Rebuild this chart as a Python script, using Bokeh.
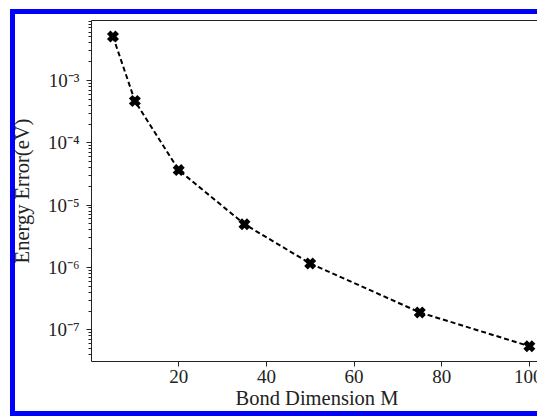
from bokeh.plotting import figure
from bokeh.models import (Range1d, FixedTicker, LogTicker, LinearAxis,
                          CustomJSTickFormatter)
from bokeh.embed import file_html
from bokeh.resources import INLINE

# ---- data ----
bond_dim = [5, 10, 20, 35, 50, 75, 100]
energy_error = [5.1e-3, 4.7e-4, 3.65e-5, 4.95e-6, 1.16e-6, 1.9e-7, 5.45e-8]
x_ticks = [20, 40, 60, 80, 100]
x_label = "Bond Dimension M"
y_label = "Energy Error(eV)"

FONT = "Liberation Serif"
INK = "#222222"
BLUE = "#0000ff"

p = figure(width=542, height=416, y_axis_type="log",
           x_range=Range1d(0.1, 103.0),
           y_range=Range1d(10 ** -7.509, 10 ** -2.037),
           output_backend="svg", toolbar_location=None,
           min_border_left=91, min_border_right=0,
           min_border_top=20, min_border_bottom=55)

p.outline_line_color = None
p.xgrid.visible = False
p.ygrid.visible = False
p.background_fill_color = "white"
p.border_fill_color = None

# blue picture frame (left, top and bottom edges) painted behind the canvas
p.styles = {"background-color": "white",
            "box-shadow": f"inset 10px 9px 0 0 white, inset 0 -5px 0 0 {BLUE}, "
                          f"inset 15px 14px 0 0 {BLUE}",
            "clip-path": "inset(0px 5px 0px 0px)"}

# top spine
top = LinearAxis(ticker=FixedTicker(ticks=[]), major_tick_out=0, minor_tick_out=0,
                 major_label_text_font_size="0px", axis_line_color=INK,
                 axis_line_width=1)
p.add_layout(top, "above")

# x axis (bottom)
xa = p.below[0]
xa.ticker = FixedTicker(ticks=x_ticks)
xa.axis_label = x_label
xa.major_tick_out = 5
xa.major_tick_in = 0
xa.minor_tick_out = 0
xa.major_label_standoff = 3
xa.axis_label_standoff = 1
xa.axis_line_color = INK
xa.major_tick_line_color = INK
xa.major_label_text_font = FONT
xa.major_label_text_font_size = "19px"
xa.major_label_text_color = INK
xa.axis_label_text_font = FONT
xa.axis_label_text_font_size = "20.5px"
xa.axis_label_text_font_style = "normal"
xa.axis_label_text_color = INK

# y axis
ya = p.left[0]
ya.ticker = LogTicker(num_minor_ticks=10)
ya.formatter = CustomJSTickFormatter(code="""
const e = Math.round(Math.log10(tick));
const sup = {"-":"\u207B","0":"\u2070","1":"\u00B9","2":"\u00B2","3":"\u00B3",
             "4":"\u2074","5":"\u2075","6":"\u2076","7":"\u2077","8":"\u2078","9":"\u2079"};
return "10" + String(e).split("").map(c => sup[c]).join("");
""")
ya.axis_label = y_label
ya.major_tick_out = 5
ya.major_tick_in = 0
ya.minor_tick_out = 3
ya.minor_tick_in = 0
ya.major_label_standoff = 7
ya.axis_label_standoff = 12
ya.axis_line_color = INK
ya.major_tick_line_color = INK
ya.minor_tick_line_color = INK
ya.major_label_text_font = FONT
ya.major_label_text_font_size = "19px"
ya.major_label_text_color = INK
ya.axis_label_text_font = FONT
ya.axis_label_text_font_size = "20.5px"
ya.axis_label_text_font_style = "normal"
ya.axis_label_text_color = INK

# data
p.line(bond_dim, energy_error, line_color="black", line_width=2, line_dash="5 3")
p.scatter(bond_dim, energy_error, marker="x", size=12, line_width=5,
          line_color="black")

open("out.html", "w").write(file_html(p, INLINE))
